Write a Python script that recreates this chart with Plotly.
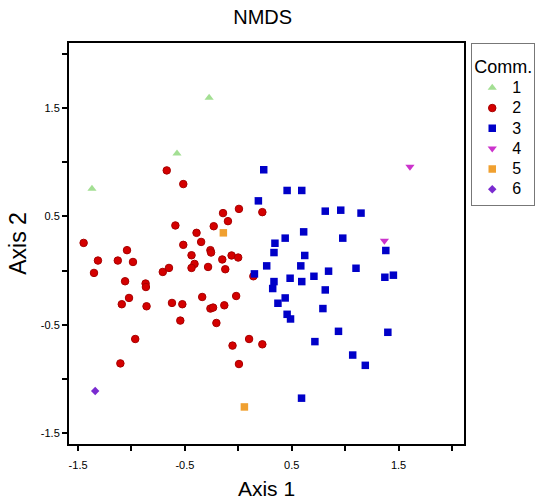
import plotly.graph_objects as go

# Community 1 (green triangles)
c1_x = [-1.370, -0.574, -0.273]
c1_y = [0.754, 1.081, 1.595]

# Community 2 (red circles)
c2_x = [-0.670, -0.515, -1.448, -1.314, -1.351, -1.128, -1.042, -0.986, -1.060, -0.868,
        -0.865, -1.023, -1.091, -0.859, -0.965, -1.104, -0.707, -0.649, -0.589, -0.515,
        -0.438, -0.410, -0.438, -0.391, -0.348, -0.261, -0.255, -0.283, -0.230, -0.143,
        -0.097, 0.006, -0.150, -0.122, -0.063, -0.001, 0.141, -0.621, -0.524, -0.543,
        -0.338, -0.261, -0.236, -0.131, -0.020, -0.205, -0.054, 0.101, 0.006, 0.225, 0.225]
c2_y = [0.924, 0.798, 0.255, 0.092, -0.022, 0.092, 0.188, 0.079, -0.099, -0.120,
        -0.152, -0.253, -0.311, -0.330, -0.632, -0.857, -0.013, 0.024, 0.416, 0.237,
        0.141, 0.061, 0.024, 0.348, 0.264, 0.188, 0.166, 0.033, 0.409, 0.530,
        0.456, 0.569, 0.102, 0.012, 0.139, 0.120, -0.053, -0.299, -0.311, -0.462,
        -0.244, -0.351, -0.342, -0.321, -0.235, -0.484, -0.693, -0.632, -0.863, 0.539, -0.681]

# Community 3 (blue squares)
c3_x = [0.238, 0.457, 0.594, 0.188, 0.814, 0.959, 1.149, 0.612, 0.439, 0.343,
        0.334, 0.622, 0.978, 1.381, 0.266, 0.585, 0.151, 0.485, 0.594, 0.708,
        0.845, 1.102, 1.372, 1.452, 0.334, 0.322, 0.814, 0.439, 0.371, 0.792,
        0.457, 0.489, 0.938, 1.400, 0.717, 1.071, 1.189, 0.592]
c3_y = [0.930, 0.739, 0.739, 0.643, 0.548, 0.557, 0.530, 0.357, 0.299, 0.252,
        0.166, 0.139, 0.299, 0.185, 0.043, 0.043, -0.031, -0.071, -0.102, -0.053,
        -0.006, 0.021, -0.062, -0.043, -0.102, -0.166, -0.179, -0.253, -0.302, -0.351,
        -0.404, -0.447, -0.561, -0.570, -0.656, -0.780, -0.875, -1.178]

# Community 4 (magenta down triangles)
c4_x = [1.607, 1.368]
c4_y = [0.957, 0.274]

# Community 5 (orange squares)
c5_x = [-0.140, 0.057]
c5_y = [0.348, -1.259]

# Community 6 (purple diamond)
c6_x = [-1.340]
c6_y = [-1.111]

tick_vals = [-1.5, -1.0, -0.5, 0.0, 0.5, 1.0, 1.5, 2.0]
tick_text = ["-1.5", "", "-0.5", "", "0.5", "", "1.5", ""]

groups = [
    ("1", c1_x, c1_y, "triangle-up", "#A3DF93", 8, None),
    ("2", c2_x, c2_y, "circle", "#D40000", 7.5, "#A80000"),
    ("3", c3_x, c3_y, "square", "#0000C8", 7.5, None),
    ("4", c4_x, c4_y, "triangle-down", "#CC33CC", 8, None),
    ("5", c5_x, c5_y, "square", "#F0A030", 7.5, None),
    ("6", c6_x, c6_y, "diamond", "#7A2BD0", 6.5, None),
]

fig = go.Figure()
for name, xs, ys, sym, col, size, edge in groups:
    fig.add_trace(go.Scatter(
        x=xs, y=ys, mode="markers",
        name="<span style='font-size:16px'>" + name + "</span>",
        marker=dict(symbol=sym, color=col, size=size,
                    line=dict(width=1 if edge else 0, color=edge or col)),
    ))

font_family = "Liberation Sans, Arial, sans-serif"
L, R, T, B = 69, 80, 43, 56
fig.update_layout(
    width=547, height=500,
    margin=dict(l=L, r=R, t=T, b=B),
    paper_bgcolor="white", plot_bgcolor="white",
    font=dict(family=font_family, color="black"),
    title=dict(text="NMDS", x=262.7 / 547, xanchor="center", y=1 - 17.4 / 500, yanchor="middle",
               font=dict(size=20, color="black")),
    showlegend=True,
    legend=dict(
        title=dict(text="<span style='font-size:18px'>Comm.</span>", font=dict(size=22)),
        font=dict(size=13.3),
        x=(474.3 - L) / (547 - L - R), xanchor="left", y=1.0, yanchor="top",
        bordercolor="#777777", borderwidth=1, bgcolor="white",
        tracegroupgap=0, itemwidth=30,
    ),
    xaxis=dict(
        range=[-1.585, 2.113], tickvals=tick_vals, ticktext=tick_text,
        ticks="outside", ticklen=5, tickwidth=2, tickcolor="black",
        showline=True, linewidth=2, linecolor="black", mirror=True,
        showgrid=False, zeroline=False, automargin=False,
        tickfont=dict(size=11), ticklabelstandoff=5,
        title=dict(text="Axis 1", font=dict(size=21), standoff=16),
    ),
    yaxis=dict(
        range=[-1.601, 2.100], tickvals=tick_vals, ticktext=tick_text,
        ticks="outside", ticklen=5, tickwidth=2, tickcolor="black",
        showline=True, linewidth=2, linecolor="black", mirror=True,
        showgrid=False, zeroline=False, automargin=False,
        tickfont=dict(size=11),
        title=dict(text="Axis 2", font=dict(size=23), standoff=8),
    ),
)

fig.write_html("out.html")
